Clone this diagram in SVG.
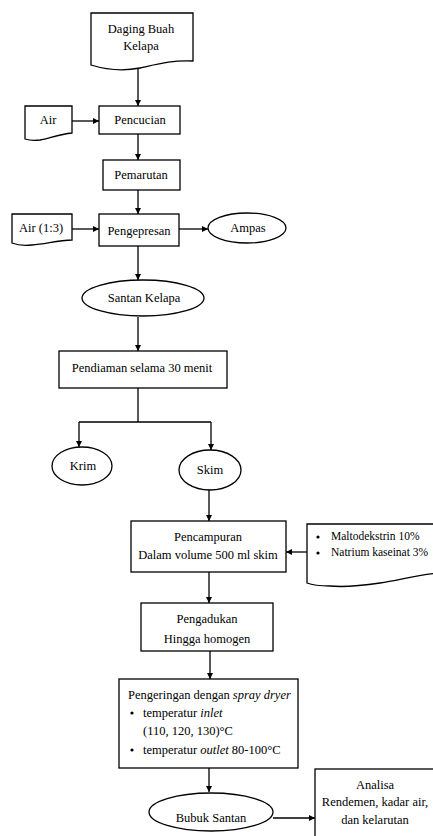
<svg xmlns="http://www.w3.org/2000/svg" width="433" height="836" viewBox="0 0 433 836">
<defs>
<marker id="ah" viewBox="0 0 10 10" refX="10" refY="5" markerWidth="6" markerHeight="6" orient="auto" markerUnits="userSpaceOnUse">
<path d="M0,0 L10,5 L0,10 Z" fill="#000"/>
</marker>
<style>
.s{fill:#fff;stroke:#000;stroke-width:1.3}
.t{font-family:"Liberation Serif","Times New Roman",serif;font-size:12.5px;fill:#000}
.sm{font-size:11.5px}
.c{text-anchor:middle}
.l{fill:none;stroke:#000;stroke-width:1.3}
.a{marker-end:url(#ah)}
</style>
</defs>
<rect width="433" height="836" fill="#fff"/>
<g id="connectors">
<path class="l a" d="M138,67 V106"/>
<path class="l a" d="M72,121 H99"/>
<path class="l a" d="M138,134 V160"/>
<path class="l a" d="M138,190 V214"/>
<path class="l a" d="M72,229 H99"/>
<path class="l a" d="M179,229 H208"/>
<path class="l a" d="M138,246 V280"/>
<path class="l a" d="M138,317 V351"/>
<path class="l" d="M138,388 V422 M79,422 H211"/>
<path class="l a" d="M79,422 V447"/>
<path class="l a" d="M211,422 V450"/>
<path class="l a" d="M209,490 V521"/>
<path class="l a" d="M307,552 H286"/>
<path class="l a" d="M209,572 V603"/>
<path class="l a" d="M210,651 V679"/>
<path class="l a" d="M209,768 V792"/>
<path class="l a" d="M273,818 H315"/>
</g>
<g id="daging">
<path class="s" d="M91,13 H193 V61 C172,60 158,64 140,68 C120,72 104,69 91,65 Z"/>
<text class="t c" x="141" y="33">Daging Buah</text>
<text class="t c" x="141" y="50">Kelapa</text>
</g>
<g id="air1">
<path class="s" d="M25,106 H72 V133 C60,134 50,138 40,140 C33,141 28,140 25,139 Z"/>
<text class="t c" x="48" y="124">Air</text>
</g>
<g id="pencucian">
<rect class="s" x="99" y="106" width="81" height="28"/>
<text class="t c" x="140" y="124">Pencucian</text>
</g>
<g id="pemarutan">
<rect class="s" x="103" y="160" width="77" height="30"/>
<text class="t c" x="141" y="179">Pemarutan</text>
</g>
<g id="air2">
<path class="s" d="M12,214 H72 V240 C58,240 46,244 32,245 C24,246 17,245 12,243 Z"/>
<text class="t c" x="41" y="232">Air (1:3)</text>
</g>
<g id="pengepresan">
<rect class="s" x="99" y="214" width="80" height="32"/>
<text class="t c" x="139" y="235">Pengepresan</text>
</g>
<g id="ampas">
<ellipse class="s" cx="247" cy="228" rx="39" ry="15"/>
<text class="t c" x="248" y="232">Ampas</text>
</g>
<g id="santan">
<ellipse class="s" cx="143" cy="298" rx="61" ry="18"/>
<text class="t c" x="144" y="302">Santan Kelapa</text>
</g>
<g id="pendiaman">
<rect class="s" x="59" y="351" width="168" height="37"/>
<text class="t c" x="142" y="372">Pendiaman selama 30 menit</text>
</g>
<g id="krim">
<ellipse class="s" cx="82" cy="466" rx="30" ry="19"/>
<text class="t c" x="83" y="470">Krim</text>
</g>
<g id="skim">
<ellipse class="s" cx="210" cy="470" rx="31" ry="20"/>
<text class="t c" x="210" y="474">Skim</text>
</g>
<g id="pencampuran">
<rect class="s" x="131" y="521" width="155" height="51"/>
<text class="t c" x="208" y="541">Pencampuran</text>
<text class="t c" x="208" y="559">Dalam volume 500 ml skim</text>
</g>
<g id="bahan">
<path class="s" d="M307,524 H440 V573 C420,574 400,580 380,583 C360,586 340,587 330,586 C320,586 312,585 307,583 Z"/>
<circle cx="318" cy="537" r="1.6" fill="#000"/>
<circle cx="318" cy="553" r="1.6" fill="#000"/>
<text class="t sm" x="331" y="540">Maltodekstrin 10%</text>
<text class="t sm" x="331" y="556">Natrium kaseinat 3%</text>
</g>
<g id="pengadukan">
<rect class="s" x="141" y="603" width="132" height="48"/>
<text class="t c" x="207" y="623">Pengadukan</text>
<text class="t c" x="207" y="643">Hingga homogen</text>
</g>
<g id="pengeringan">
<rect class="s" x="119" y="679" width="179" height="89"/>
<text class="t" x="128" y="699">Pengeringan dengan <tspan font-style="italic">spray dryer</tspan></text>
<circle cx="132" cy="713" r="1.6" fill="#000"/>
<text class="t" x="143" y="717">temperatur <tspan font-style="italic">inlet</tspan></text>
<text class="t" x="143" y="735">(110, 120, 130)°C</text>
<circle cx="132" cy="750" r="1.6" fill="#000"/>
<text class="t" x="143" y="754">temperatur <tspan font-style="italic">outlet</tspan> 80-100°C</text>
</g>
<g id="bubuk">
<ellipse class="s" cx="211" cy="812" rx="62" ry="19"/>
<text class="t c" x="211" y="822">Bubuk Santan</text>
</g>
<g id="analisa">
<rect class="s" x="315" y="769" width="125" height="80"/>
<text class="t c" x="375" y="789">Analisa</text>
<text class="t c" x="375" y="806">Rendemen, kadar air,</text>
<text class="t c" x="375" y="824">dan kelarutan</text>
</g>
</svg>
